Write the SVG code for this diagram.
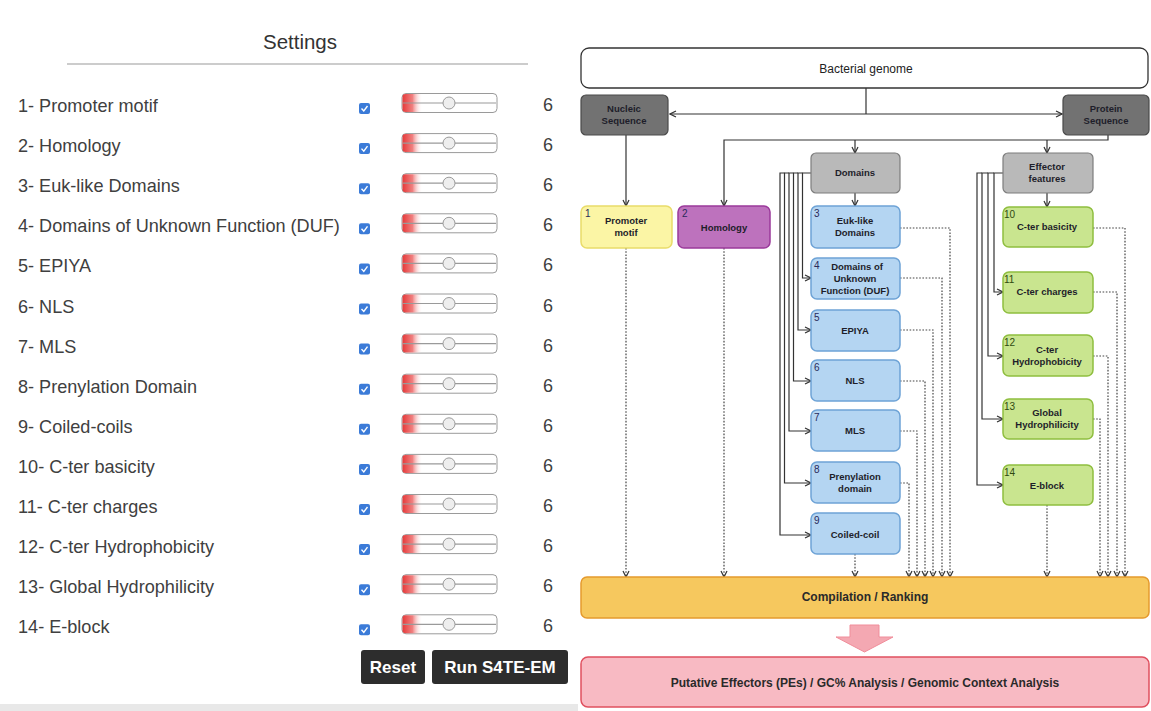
<svg xmlns="http://www.w3.org/2000/svg" width="1151" height="711" viewBox="0 0 1151 711">
<defs>
<linearGradient id="red" x1="0" y1="0" x2="1" y2="0">
<stop offset="0" stop-color="#e53a3a"/>
<stop offset="0.5" stop-color="#f08080"/>
<stop offset="1" stop-color="#ffffff" stop-opacity="0"/>
</linearGradient>
<marker id="arr" viewBox="0 0 8 8" refX="7" refY="4" markerWidth="8" markerHeight="8" markerUnits="userSpaceOnUse" orient="auto">
<path d="M1,1 L7,4 L1,7" fill="none" stroke="#333" stroke-width="1.2"/>
</marker>
<g id="slider">
<rect x="402" y="-9.5" width="95" height="19" rx="4" fill="#fff" stroke="#9a9a9a" stroke-width="1"/>
<rect x="402.5" y="-9" width="20" height="18" rx="3" fill="url(#red)"/>
<line x1="403" y1="0" x2="496" y2="0" stroke="#9a9a9a" stroke-width="1.2"/>
<circle cx="449" cy="0" r="6" fill="#eee" stroke="#9a9a9a" stroke-width="1"/>
</g>
<g id="check">
<rect x="359" y="-5" width="11" height="11" rx="2" fill="#3b7bd8"/>
<path d="M361.5,0.5 L363.8,3 L367.5,-2" fill="none" stroke="#fff" stroke-width="1.4"/>
</g>
</defs>
<style>
.lbl{font-family:"Liberation Sans",Arial,sans-serif;font-size:18.1px;fill:#404040}
.val{font-family:"Liberation Sans",Arial,sans-serif;font-size:18px;fill:#404040}
.btn{fill:#2d2d2d}
.btxt{font-family:"Liberation Sans",Arial,sans-serif;font-size:17px;font-weight:bold;fill:#fff;text-anchor:middle}
.bx{font-family:"Liberation Sans",Arial,sans-serif;font-size:9.5px;font-weight:bold;fill:#1e1e2a;text-anchor:middle}
.num{font-family:"Liberation Sans",Arial,sans-serif;font-size:10px;fill:#2a2a5a}
.gnum{font-family:"Liberation Sans",Arial,sans-serif;font-size:10px;fill:#2f4a10}
.blue{fill:#b4d5f2;stroke:#6ea3d6;stroke-width:1.5}
.green{fill:#c9e58f;stroke:#8fbe3f;stroke-width:1.5}
.grey{fill:#b9b9b9;stroke:#7d7d7d;stroke-width:1.2}
.dark{fill:#727272;stroke:#4a4a4a;stroke-width:1.2}
.solid{fill:none;stroke:#333;stroke-width:1.2}
.dot{fill:none;stroke:#444;stroke-width:1.2;stroke-dasharray:1.6 1.6}
</style>

<g id="settings">
<text x="300" y="49" font-family="'Liberation Sans',Arial,sans-serif" font-size="20.5" fill="#333" text-anchor="middle">Settings</text>
<line x1="67" y1="64" x2="528" y2="64" stroke="#999" stroke-width="1.2"/>
<rect x="0" y="704" width="578" height="7" fill="#e8e8e8"/>
</g>

<g id="rows">
<g transform="translate(0,104)"><text class="lbl" x="18" y="8">1- Promoter motif</text><use href="#check" y="4"/><use href="#slider" y="-1"/><text class="val" x="543" y="7">6</text></g>
<g transform="translate(0,144.1)"><text class="lbl" x="18" y="8">2- Homology</text><use href="#check" y="4"/><use href="#slider" y="-1"/><text class="val" x="543" y="7">6</text></g>
<g transform="translate(0,184.2)"><text class="lbl" x="18" y="8">3- Euk-like Domains</text><use href="#check" y="4"/><use href="#slider" y="-1"/><text class="val" x="543" y="7">6</text></g>
<g transform="translate(0,224.3)"><text class="lbl" x="18" y="8">4- Domains of Unknown Function (DUF)</text><use href="#check" y="4"/><use href="#slider" y="-1"/><text class="val" x="543" y="7">6</text></g>
<g transform="translate(0,264.4)"><text class="lbl" x="18" y="8">5- EPIYA</text><use href="#check" y="4"/><use href="#slider" y="-1"/><text class="val" x="543" y="7">6</text></g>
<g transform="translate(0,304.5)"><text class="lbl" x="18" y="8">6- NLS</text><use href="#check" y="4"/><use href="#slider" y="-1"/><text class="val" x="543" y="7">6</text></g>
<g transform="translate(0,344.6)"><text class="lbl" x="18" y="8">7- MLS</text><use href="#check" y="4"/><use href="#slider" y="-1"/><text class="val" x="543" y="7">6</text></g>
<g transform="translate(0,384.7)"><text class="lbl" x="18" y="8">8- Prenylation Domain</text><use href="#check" y="4"/><use href="#slider" y="-1"/><text class="val" x="543" y="7">6</text></g>
<g transform="translate(0,424.8)"><text class="lbl" x="18" y="8">9- Coiled-coils</text><use href="#check" y="4"/><use href="#slider" y="-1"/><text class="val" x="543" y="7">6</text></g>
<g transform="translate(0,464.9)"><text class="lbl" x="18" y="8">10- C-ter basicity</text><use href="#check" y="4"/><use href="#slider" y="-1"/><text class="val" x="543" y="7">6</text></g>
<g transform="translate(0,505)"><text class="lbl" x="18" y="8">11- C-ter charges</text><use href="#check" y="4"/><use href="#slider" y="-1"/><text class="val" x="543" y="7">6</text></g>
<g transform="translate(0,545.1)"><text class="lbl" x="18" y="8">12- C-ter Hydrophobicity</text><use href="#check" y="4"/><use href="#slider" y="-1"/><text class="val" x="543" y="7">6</text></g>
<g transform="translate(0,585.2)"><text class="lbl" x="18" y="8">13- Global Hydrophilicity</text><use href="#check" y="4"/><use href="#slider" y="-1"/><text class="val" x="543" y="7">6</text></g>
<g transform="translate(0,625.3)"><text class="lbl" x="18" y="8">14- E-block</text><use href="#check" y="4"/><use href="#slider" y="-1"/><text class="val" x="543" y="7">6</text></g>
</g>

<g id="btn-reset"><rect class="btn" x="361" y="650" width="64" height="34" rx="3"/><text class="btxt" x="393" y="673">Reset</text></g>
<g id="btn-run"><rect class="btn" x="432" y="650" width="136" height="34" rx="3"/><text class="btxt" x="500" y="673">Run S4TE-EM</text></g>

<g id="connectors">
<path class="solid" d="M866,88 V114"/>
<path class="solid" d="M866,114 H670" marker-end="url(#arr)"/>
<path class="solid" d="M866,114 H1062" marker-end="url(#arr)"/>
<path class="solid" d="M626,135 V206" marker-end="url(#arr)"/>
<path class="solid" d="M1108,135 V140 H724 V206" marker-end="url(#arr)"/>
<path class="solid" d="M855,140 V153" marker-end="url(#arr)"/>
<path class="solid" d="M1047,140 V153" marker-end="url(#arr)"/>
<path class="solid" d="M855,193 V206" marker-end="url(#arr)"/>
<path class="solid" d="M1047,193 V207" marker-end="url(#arr)"/>
<path class="solid" d="M811,173 H802.5 V278 H811" marker-end="url(#arr)"/>
<path class="solid" d="M802.5,173 H798 V330 H811" marker-end="url(#arr)"/>
<path class="solid" d="M798,173 H793.5 V381 H811" marker-end="url(#arr)"/>
<path class="solid" d="M793.5,173 H789 V431 H811" marker-end="url(#arr)"/>
<path class="solid" d="M789,173 H784.5 V483 H811" marker-end="url(#arr)"/>
<path class="solid" d="M784.5,173 H780 V535 H811" marker-end="url(#arr)"/>
<path class="solid" d="M1003,173 H994 V292 H1003" marker-end="url(#arr)"/>
<path class="solid" d="M994,173 H988 V356 H1003" marker-end="url(#arr)"/>
<path class="solid" d="M988,173 H982 V419 H1003" marker-end="url(#arr)"/>
<path class="solid" d="M982,173 H977 V485 H1003" marker-end="url(#arr)"/>
<path class="dot" d="M626,248 V577" marker-end="url(#arr)"/>
<path class="dot" d="M724,248 V577" marker-end="url(#arr)"/>
<path class="dot" d="M900,228 H950 V577" marker-end="url(#arr)"/>
<path class="dot" d="M900,278 H942 V577" marker-end="url(#arr)"/>
<path class="dot" d="M900,330 H933 V577" marker-end="url(#arr)"/>
<path class="dot" d="M900,381 H925 V577" marker-end="url(#arr)"/>
<path class="dot" d="M900,431 H917 V577" marker-end="url(#arr)"/>
<path class="dot" d="M900,483 H909 V577" marker-end="url(#arr)"/>
<path class="dot" d="M855,554 V577" marker-end="url(#arr)"/>
<path class="dot" d="M1093,228 H1125 V577" marker-end="url(#arr)"/>
<path class="dot" d="M1093,292 H1117 V577" marker-end="url(#arr)"/>
<path class="dot" d="M1093,356 H1108 V577" marker-end="url(#arr)"/>
<path class="dot" d="M1093,419 H1100 V577" marker-end="url(#arr)"/>
<path class="dot" d="M1047,505 V577" marker-end="url(#arr)"/>
<polygon points="850,625 879,625 879,637 893,637 864.5,652 836,637 850,637" fill="#f4a8b2" stroke="#f08d9a" stroke-width="1"/>
</g>

<g id="bacterial-genome"><rect x="581" y="48" width="567" height="40" rx="8" fill="#fff" stroke="#333" stroke-width="1.3"/><text x="866" y="73" font-family="'Liberation Sans',Arial,sans-serif" font-size="12" fill="#222" text-anchor="middle">Bacterial genome</text></g>
<g id="nucleic"><rect class="dark" x="581" y="95" width="87" height="40" rx="5"/><text class="bx" x="624" y="112">Nucleic</text><text class="bx" x="624" y="124">Sequence</text></g>
<g id="protein"><rect class="dark" x="1063" y="95" width="86" height="40" rx="5"/><text class="bx" x="1106" y="112">Protein</text><text class="bx" x="1106" y="124">Sequence</text></g>

<g id="promoter"><rect x="581" y="206" width="91" height="42" rx="6" fill="#fbf5a5" stroke="#e9dc6a" stroke-width="1.5"/><text class="num" x="585" y="217" fill="#333">1</text><text class="bx" x="626" y="224">Promoter</text><text class="bx" x="626" y="236">motif</text></g>
<g id="homology"><rect x="678" y="206" width="92" height="42" rx="6" fill="#bd72bd" stroke="#9b3a9b" stroke-width="1.5"/><text class="num" x="682" y="217" fill="#3a1040">2</text><text class="bx" x="724" y="231" fill="#2a0a30">Homology</text></g>

<g id="domains"><rect class="grey" x="811" y="153" width="89" height="40" rx="5"/><text class="bx" x="855" y="176">Domains</text></g>
<g id="euk"><rect class="blue" x="811" y="206" width="89" height="42" rx="6"/><text class="num" x="814" y="217">3</text><text class="bx" x="855" y="224">Euk-like</text><text class="bx" x="855" y="236">Domains</text></g>
<g id="duf"><rect class="blue" x="811" y="258" width="89" height="41" rx="6"/><text class="num" x="814" y="269">4</text><text class="bx" x="857" y="270">Domains of</text><text class="bx" x="855" y="282">Unknown</text><text class="bx" x="855" y="294">Function (DUF)</text></g>
<g id="epiya"><rect class="blue" x="811" y="310" width="89" height="41" rx="6"/><text class="num" x="814" y="321">5</text><text class="bx" x="855" y="334">EPIYA</text></g>
<g id="nls"><rect class="blue" x="811" y="360" width="89" height="41" rx="6"/><text class="num" x="814" y="371">6</text><text class="bx" x="855" y="384">NLS</text></g>
<g id="mls"><rect class="blue" x="811" y="410" width="89" height="41" rx="6"/><text class="num" x="814" y="421">7</text><text class="bx" x="855" y="434">MLS</text></g>
<g id="prenylation"><rect class="blue" x="811" y="462" width="89" height="41" rx="6"/><text class="num" x="814" y="473">8</text><text class="bx" x="855" y="480">Prenylation</text><text class="bx" x="855" y="492">domain</text></g>
<g id="coiled"><rect class="blue" x="811" y="513" width="89" height="41" rx="6"/><text class="num" x="814" y="524">9</text><text class="bx" x="855" y="538">Coiled-coil</text></g>

<g id="effector"><rect class="grey" x="1003" y="153" width="90" height="40" rx="5"/><text class="bx" x="1047" y="170">Effector</text><text class="bx" x="1047" y="182">features</text></g>
<g id="basicity"><rect class="green" x="1003" y="207" width="90" height="40" rx="6"/><text class="gnum" x="1004" y="218">10</text><text class="bx" x="1047" y="230">C-ter basicity</text></g>
<g id="charges"><rect class="green" x="1003" y="272" width="90" height="41" rx="6"/><text class="gnum" x="1004" y="283">11</text><text class="bx" x="1047" y="295">C-ter charges</text></g>
<g id="hydrophobicity"><rect class="green" x="1003" y="335" width="90" height="41" rx="6"/><text class="gnum" x="1004" y="346">12</text><text class="bx" x="1047" y="353">C-ter</text><text class="bx" x="1047" y="365">Hydrophobicity</text></g>
<g id="hydrophilicity"><rect class="green" x="1003" y="399" width="90" height="40" rx="6"/><text class="gnum" x="1004" y="410">13</text><text class="bx" x="1047" y="416">Global</text><text class="bx" x="1047" y="428">Hydrophilicity</text></g>
<g id="eblock"><rect class="green" x="1003" y="465" width="90" height="40" rx="6"/><text class="gnum" x="1004" y="476">14</text><text class="bx" x="1047" y="489">E-block</text></g>

<g id="compilation"><rect x="581" y="577" width="568" height="41" rx="6" fill="#f6c85e" stroke="#e59a2e" stroke-width="1.5"/><text x="865" y="601" font-family="'Liberation Sans',Arial,sans-serif" font-size="12" font-weight="bold" fill="#2a2a2a" text-anchor="middle">Compilation / Ranking</text></g>
<g id="putative"><rect x="581" y="657" width="568" height="50" rx="7" fill="#f8bac3" stroke="#e0505f" stroke-width="1.5"/><text x="865" y="687" font-family="'Liberation Sans',Arial,sans-serif" font-size="12" font-weight="bold" fill="#2a2a2a" text-anchor="middle">Putative Effectors (PEs) / GC% Analysis / Genomic Context Analysis</text></g>
</svg>
